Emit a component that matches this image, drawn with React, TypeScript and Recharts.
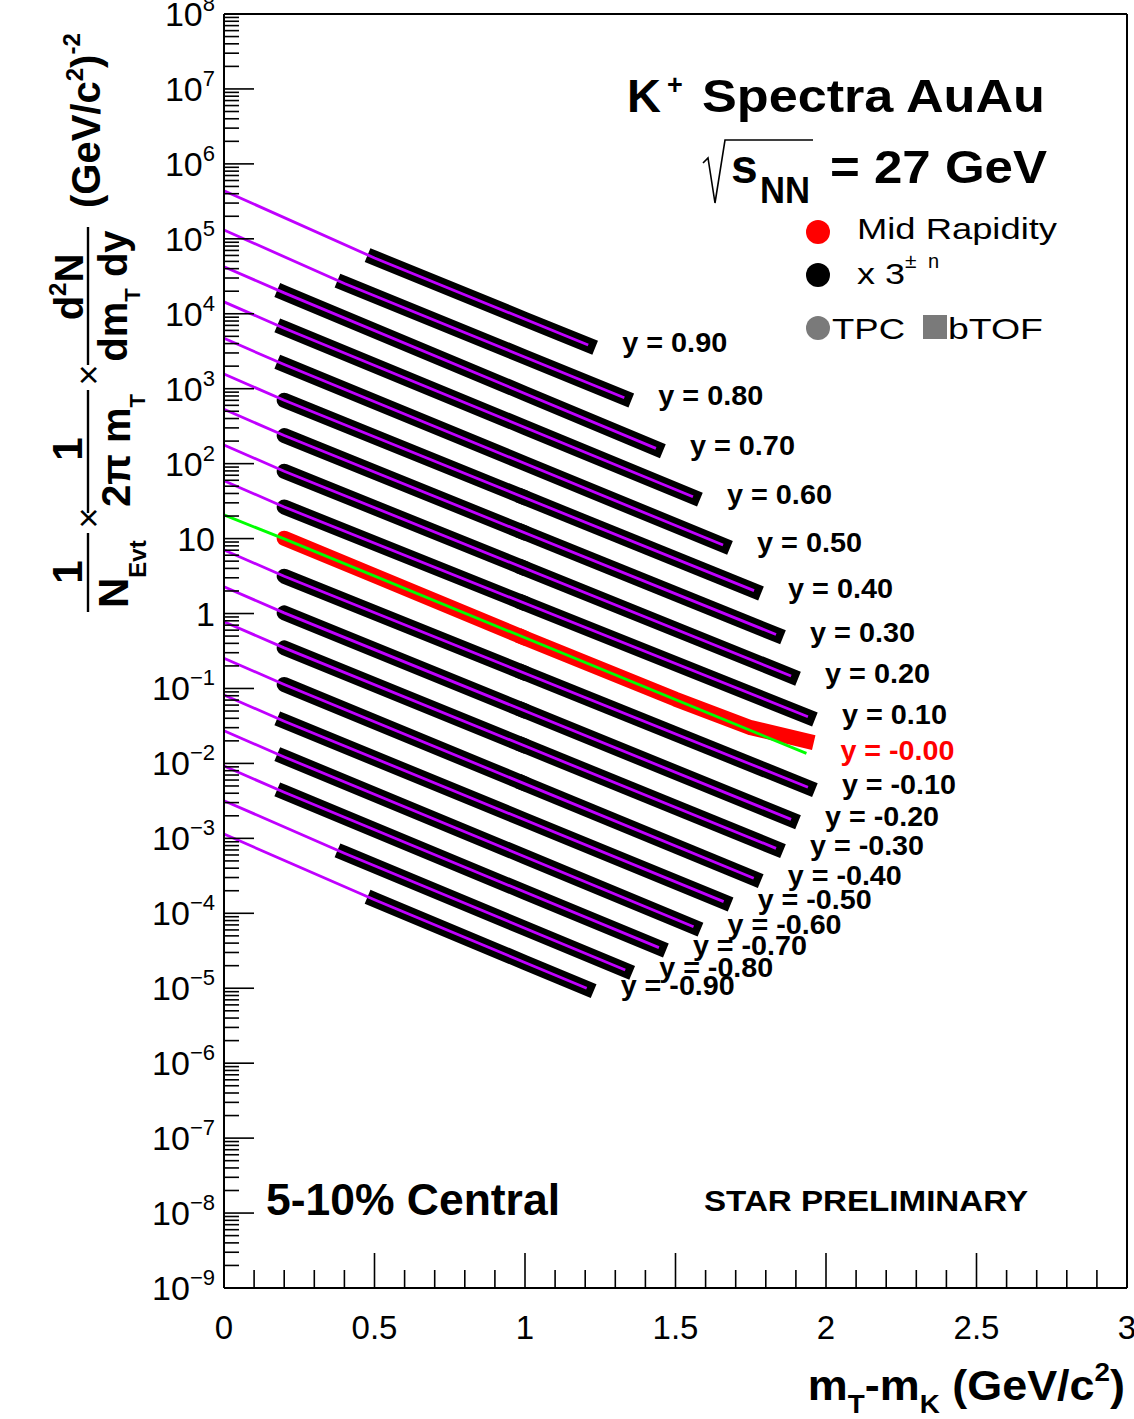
import React from 'react';
import { LineChart, Line, XAxis, YAxis } from 'recharts';

const FONT = '"Liberation Sans", Arial, Helvetica, sans-serif';
const FIT_PURPLE = '#c000ff';
const FIT_GREEN = '#00ff00';
const MID_RED = '#ff0000';

// Rapidity bins, top to bottom (each spectrum scaled by 3^{±n})
const rapidityLabels = ['0.90', '0.80', '0.70', '0.60', '0.50', '0.40', '0.30', '0.20', '0.10', '-0.00',
  '-0.10', '-0.20', '-0.30', '-0.40', '-0.50', '-0.60', '-0.70', '-0.80', '-0.90'];
// spectra whose low-mT part comes from the TPC (round markers)
const tpcAtLowMT = [false, false, false, false, false, true, true, true, true, true,
  true, true, true, true, false, false, false, false, false];

// measured m_T - m_K range of each spectrum (GeV/c^2)
const startMT = [0.5, 0.4, 0.2, 0.2, 0.2, 0.2, 0.2, 0.2, 0.2, 0.2, 0.2, 0.2, 0.2, 0.2, 0.2, 0.2, 0.2, 0.4, 0.5];
const endMT = [1.21, 1.33, 1.435, 1.558, 1.658, 1.761, 1.834, 1.884, 1.94, 1.935,
  1.94, 1.884, 1.834, 1.76, 1.66, 1.56, 1.445, 1.333, 1.205];

// scaled yields at the first point, at m_T - m_K = 1 GeV/c^2 and at the last point
const yieldAtStart = [5.55e4, 2.54e4, 1.9e4, 6.41e3, 2.1e3, 701, 237, 79.3, 26.4, 10.1,
  3.15, 1.02, 0.348, 0.113, 0.0366, 0.0122, 4.12e-3, 6.34e-4, 1.52e-4];
const yieldAtOneGeV = [8.43e3, 2.64e3, 861, 304, 100, 35.0, 11.9, 3.99, 1.36, 0.47,
  0.16, 0.0501, 0.0171, 5.33e-3, 1.75e-3, 5.68e-4, 1.91e-4, 6.3e-5, 2.2e-5];
const yieldAtEnd = [3.83e3, 759, 160, 36.2, 8.2, 2.02, 0.525, 0.147, 0.042, 0.02,
  4.8e-3, 1.79e-3, 7.36e-4, 2.93e-4, 1.43e-4, 6.62e-5, 3.48e-5, 1.75e-5, 9.98e-6];

// mid-rapidity spectrum, sampled more finely
const midRapidityMT = [0.2, 0.5, 1.0, 1.5, 1.75, 1.935];
const midRapidityYield = [10.1, 3.2, 0.47, 0.072, 0.03, 0.02];
const MID = 9;

// exponential fits: value at m_T - m_K = 0, at the first point and at the last point
const fitAtZero = [4.39e5, 1.31e5, 4.25e4, 1.44e4, 4.7e3, 1.57e3, 531, 177, 59.2, 20.7,
  7.05, 2.28, 0.778, 0.253, 0.0818, 0.0273, 9.23e-3, 3.18e-3, 1.14e-3];
const fitAtStart = [5.55e4, 2.54e4, 1.9e4, 6.41e3, 2.1e3, 701, 237, 79.3, 26.4, 9.9,
  3.15, 1.02, 0.348, 0.113, 0.0366, 0.0122, 4.12e-3, 6.34e-4, 1.52e-4];
const fitAtEnd = [3.83e3, 759, 160, 36.2, 8.2, 2.02, 0.525, 0.147, 0.042, 0.0136,
  4.8e-3, 1.79e-3, 7.36e-4, 2.93e-4, 1.43e-4, 6.62e-5, 3.48e-5, 1.75e-5, 9.98e-6];

// axis ticks
const yTicks: number[] = [];
for (let k = -9; k <= 8; k++) {
  for (let m = 1; m <= 9; m++) {
    if (k === 8 && m > 1) break;
    yTicks.push(Number(`${m}e${k}`));
  }
}
const xTicks = Array.from({ length: 31 }, (_, i) => Number((i / 10).toFixed(1)));
const xTickLabels: Record<string, string> = { '0': '0', '0.5': '0.5', '1': '1', '1.5': '1.5', '2': '2', '2.5': '2.5', '3': '3' };

type Pt = { mt: number; v: number };

const bands: Pt[][] = rapidityLabels.map((_, i) =>
  i === MID
    ? midRapidityMT.map((mt, j) => ({ mt, v: midRapidityYield[j] }))
    : [
        { mt: startMT[i], v: yieldAtStart[i] },
        { mt: 1.0, v: yieldAtOneGeV[i] },
        { mt: endMT[i], v: yieldAtEnd[i] },
      ]
);

// split each band into the TPC part (m_T - m_K <= 1) and the bTOF part
type Segment = { key: string; pts: Pt[]; color: string; cap: 'round' | 'square' };
const bandSegments: Segment[] = [];
bands.forEach((pts, i) => {
  const color = i === MID ? MID_RED : '#000';
  if (tpcAtLowMT[i]) {
    bandSegments.push({ key: `tpc-${i}`, pts: pts.filter((p) => p.mt <= 1.0), color, cap: 'round' });
    bandSegments.push({ key: `tof-${i}`, pts: pts.filter((p) => p.mt >= 1.0), color, cap: 'square' });
  } else {
    bandSegments.push({ key: `tof-${i}`, pts, color, cap: 'square' });
  }
});

const fits: Pt[][] = rapidityLabels.map((_, i) => [
  { mt: 0, v: fitAtZero[i] },
  { mt: startMT[i], v: fitAtStart[i] },
  { mt: endMT[i], v: fitAtEnd[i] },
]);

const isDecade = (v: number) => Math.abs(Math.log10(v) - Math.round(Math.log10(v))) < 1e-6;

function DecadeLabel({ x, y, k }: { x: number; y: number; k: number }) {
  if (k === 0 || k === 1) {
    return (
      <text x={x} y={y + 12} textAnchor="end" fontSize={34} fontFamily={FONT} fill="#000">
        {k === 0 ? '1' : '10'}
      </text>
    );
  }
  const exp = k < 0 ? `\u2212${-k}` : `${k}`;
  return (
    <text x={x} y={y + 12} textAnchor="end" fontSize={34} fontFamily={FONT} fill="#000">
      10<tspan fontSize={22} dy={-15}>{exp}</tspan>
    </text>
  );
}

function LeftTick(props: any) {
  const { x, y, payload } = props;
  const v: number = payload.value;
  const major = isDecade(v);
  const len = major ? 30 : 15;
  return (
    <g>
      <line x1={x} y1={y} x2={x + len} y2={y} stroke="#000" strokeWidth={1.6} />
      {major && <DecadeLabel x={x - 9} y={y} k={Math.round(Math.log10(v))} />}
    </g>
  );
}

function RightTick(props: any) {
  const { x, y, payload } = props;
  const len = isDecade(payload.value) ? 30 : 15;
  return <line x1={x} y1={y} x2={x - len} y2={y} stroke="#000" strokeWidth={1.6} />;
}

function BottomTick(props: any) {
  const { x, y, payload } = props;
  const key = String(payload.value);
  const label = xTickLabels[key];
  const len = label !== undefined ? 35 : 18;
  return (
    <g>
      <line x1={x} y1={y} x2={x} y2={y - len} stroke="#000" strokeWidth={1.6} />
      {label !== undefined && (
        <text x={x} y={y + 51} textAnchor="middle" fontSize={33} fontFamily={FONT} fill="#000">
          {label}
        </text>
      )}
    </g>
  );
}

function TopTick(props: any) {
  const { x, y, payload } = props;
  const len = xTickLabels[String(payload.value)] !== undefined ? 35 : 18;
  return <line x1={x} y1={y} x2={x} y2={y + len} stroke="#000" strokeWidth={1.6} />;
}

const fitLabel = (text: string, color: string, lastIndex: number) => (p: any) => {
  const { cx, cy, index } = p;
  if (index !== lastIndex || cx == null) return <g key={`f${index}`} />;
  return (
    <text key={`f${index}`} x={cx + 34} y={cy + 7} fontSize={28} fontWeight="bold" fontFamily={FONT}
      fill={color} textLength={text.startsWith('-') ? 114 : 105} lengthAdjust="spacingAndGlyphs">
      {`y = ${text}`}
    </text>
  );
};

function Annotations() {
  return (
    <svg width={1134} height={1419} style={{ position: 'absolute', left: 0, top: 0, pointerEvents: 'none' }}
      fontFamily={FONT}>
      {/* title */}
      <text x={627} y={112} fontSize={47} fontWeight="bold">K</text>
      <text x={667} y={94} fontSize={27} fontWeight="bold">+</text>
      <text x={702} y={112} fontSize={47} fontWeight="bold" textLength={343} lengthAdjust="spacingAndGlyphs">Spectra AuAu</text>
      {/* sqrt(s_NN) = 27 GeV */}
      <path d="M703 163 L708 158 L715 203 L725 140 L813 140" fill="none" stroke="#000" strokeWidth={1.6} />
      <text x={731} y={183} fontSize={48} fontWeight="bold">s</text>
      <text x={760} y={203} fontSize={36} fontWeight="bold" textLength={50} lengthAdjust="spacingAndGlyphs">NN</text>
      <text x={830} y={183} fontSize={46} fontWeight="bold" textLength={217} lengthAdjust="spacingAndGlyphs">= 27 GeV</text>
      {/* legend */}
      <circle cx={818} cy={232} r={12} fill={MID_RED} />
      <text x={857} y={239} fontSize={30} textLength={200} lengthAdjust="spacingAndGlyphs">Mid Rapidity</text>
      <circle cx={818} cy={275} r={12} fill="#000" />
      <text x={857} y={284} fontSize={30} textLength={48} lengthAdjust="spacingAndGlyphs">x 3</text>
      <text x={905} y={268} fontSize={21}>±</text>
      <text x={928} y={268} fontSize={20}>n</text>
      <circle cx={818} cy={328} r={12} fill="#7a7a7a" />
      <text x={832} y={339} fontSize={30} textLength={73} lengthAdjust="spacingAndGlyphs">TPC</text>
      <rect x={923} y={315} width={24} height={24} fill="#7a7a7a" />
      <text x={948} y={339} fontSize={30} textLength={95} lengthAdjust="spacingAndGlyphs">bTOF</text>
      {/* bottom notes */}
      <text x={266} y={1215} fontSize={44} fontWeight="bold" textLength={294} lengthAdjust="spacingAndGlyphs">5-10% Central</text>
      <text x={704} y={1211} fontSize={29} fontWeight="bold" textLength={324} lengthAdjust="spacingAndGlyphs">STAR PRELIMINARY</text>
      {/* x-axis title */}
      <g transform="translate(1125,1400) scale(1.07,1)">
        <text x={0} y={0} textAnchor="end" fontSize={42} fontWeight="bold">
          m<tspan fontSize={26} dy={13}>T</tspan><tspan dy={-13}>-m</tspan><tspan fontSize={26} dy={13}>K</tspan>
          <tspan dy={-13}> (GeV/c</tspan><tspan fontSize={26} dy={-19}>2</tspan><tspan dy={19}>)</tspan>
        </text>
      </g>
      {/* y-axis title, read bottom to top */}
      <g transform="translate(88,612) rotate(-90)" fontWeight="bold">
        <line x1={0} y1={0} x2={79} y2={0} stroke="#000" strokeWidth={2.4} />
        <text x={40} y={-6} fontSize={42} textAnchor="middle">1</text>
        <text x={4} y={40} fontSize={42}>N<tspan fontSize={24} dy={18}>Evt</tspan></text>
        <text x={94} y={13} fontSize={36} fontWeight="normal" textAnchor="middle">×</text>
        <line x1={99} y1={0} x2={222} y2={0} stroke="#000" strokeWidth={2.4} />
        <text x={163} y={-6} fontSize={42} textAnchor="middle">1</text>
        <text x={105} y={42} fontSize={40}>2π m<tspan fontSize={22} dy={15}>T</tspan></text>
        <text x={237} y={13} fontSize={36} fontWeight="normal" textAnchor="middle">×</text>
        <line x1={247} y1={0} x2={385} y2={0} stroke="#000" strokeWidth={2.4} />
        <text x={325} y={-5} fontSize={40} textAnchor="middle">d<tspan fontSize={24} dy={-17}>2</tspan><tspan dy={17}>N</tspan></text>
        <text x={316} y={39} fontSize={40} textAnchor="middle">dm<tspan fontSize={22} dy={13}>T</tspan><tspan dy={-13}> dy</tspan></text>
        <text x={404} y={12} fontSize={40}>(GeV/c<tspan fontSize={24} dy={-17}>2</tspan><tspan dy={17}>)</tspan><tspan fontSize={24} dy={-20}>-2</tspan></text>
      </g>
    </svg>
  );
}

export default function App() {
  return (
    <div style={{ position: 'absolute', left: 0, top: 0, width: 1134, height: 1419, background: '#fff' }}>
      <LineChart width={1134} height={1419} margin={{ top: 14, right: 7, bottom: 0, left: 0 }}>
        <XAxis dataKey="mt" type="number" domain={[0, 3]} ticks={xTicks} interval={0} height={131}
          tick={(p: any) => <BottomTick {...p} />} tickSize={0} tickMargin={0} tickLine={false}
          axisLine={{ stroke: '#000', strokeWidth: 2 }} />
        <XAxis xAxisId="top" orientation="top" mirror dataKey="mt" type="number" domain={[0, 3]} ticks={xTicks}
          interval={0} height={1} tick={(p: any) => <TopTick {...p} />} tickSize={0} tickMargin={0} tickLine={false}
          axisLine={{ stroke: '#000', strokeWidth: 2 }} />
        <YAxis scale="log" type="number" domain={[1e-9, 1e8]} ticks={yTicks} interval={0} width={224}
          tick={(p: any) => <LeftTick {...p} />} tickSize={0} tickMargin={0} tickLine={false}
          axisLine={{ stroke: '#000', strokeWidth: 2 }} />
        <YAxis yAxisId="right" orientation="right" mirror scale="log" type="number" domain={[1e-9, 1e8]}
          ticks={yTicks} interval={0} width={1} tick={(p: any) => <RightTick {...p} />} tickSize={0}
          tickMargin={0} tickLine={false} axisLine={{ stroke: '#000', strokeWidth: 2 }} />
        {bandSegments.map((seg) => (
          <Line key={seg.key} data={seg.pts} dataKey="v" type="linear" isAnimationActive={false}
            stroke={seg.color} strokeWidth={15} strokeLinecap={seg.cap} strokeLinejoin="round"
            dot={false} activeDot={false} legendType="none" />
        ))}
        {fits.map((pts, i) => (
          <Line key={`fit-${i}`} data={pts} dataKey="v" type="linear" isAnimationActive={false}
            stroke={i === MID ? FIT_GREEN : FIT_PURPLE} strokeWidth={2.8}
            dot={fitLabel(rapidityLabels[i], i === MID ? MID_RED : '#000', pts.length - 1)}
            activeDot={false} legendType="none" />
        ))}
      </LineChart>
      <Annotations />
    </div>
  );
}
